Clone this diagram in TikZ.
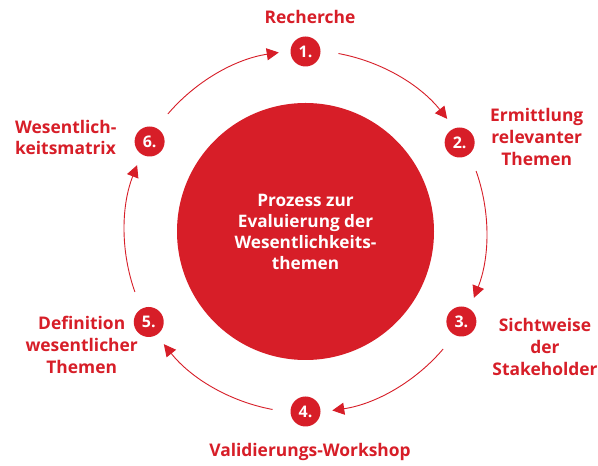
\documentclass[tikz,border=0pt]{standalone}
\usepackage{fontspec}
\setmainfont{Open Sans}
\usetikzlibrary{arrows.meta}
\definecolor{spred}{RGB}{215,30,40}
\begin{document}
\begin{tikzpicture}[x=1pt,y=1pt,
  num/.style={circle,fill=spred,minimum size=30pt,inner sep=0pt,text=white,font=\fontsize{16}{16}\selectfont\bfseries},
  lbl/.style={text=spred,align=center,inner sep=0pt,font=\fontsize{17.4}{21.7}\selectfont\bfseries},
  arr/.style={draw=spred,line width=0.9pt,-{Triangle[length=12pt,width=12pt]}},
  core/.style={circle,fill=spred,minimum size=257pt,inner sep=0pt,text=white,align=center,font=\fontsize{17.2}{21}\selectfont\bfseries}]
\path[use as bounding box,fill=white] (0,0) rectangle (598,466);
\coordinate (C) at (305.5,234.5);
\node[core] (core) at (C) {Prozess zur\\Evaluierung der\\Wesentlichkeits-\\themen};
\node[num] (n1) at ([shift={(90:180)}]C) {1.};
\node[num] (n2) at ([shift={(30:178)}]C) {2.};
\node[num] (n3) at ([shift={(-30:180)}]C) {3.};
\node[num] (n4) at ([shift={(-90:180)}]C) {4.};
\node[num] (n5) at ([shift={(-150:181)}]C) {5.};
\node[num] (n6) at ([shift={(150:180)}]C) {6.};
\foreach \a in {90,30,-30,-90,-150,150}{
  \draw[arr] ([shift={(\a-10.5:181)}]C) arc[start angle=\a-10.5, end angle=\a-51.5, radius=181];
}
\node[lbl] (l1) at (310,449) {Recherche};
\node[lbl] (l2) at (536.7,329) {Ermittlung\\relevanter\\Themen};
\node[lbl] (l3) at (545,119) {Sichtweise\\der\\Stakeholder};
\node[lbl] (l4) at (310,14) {Validierungs-Workshop};
\node[lbl] (l5) at (81.7,121) {Definition\\wesentlicher\\Themen};
\node[lbl,align=left,anchor=west] (l6) at (15,328.5) {Wesentlich-\\keitsmatrix};
\end{tikzpicture}
\end{document}
